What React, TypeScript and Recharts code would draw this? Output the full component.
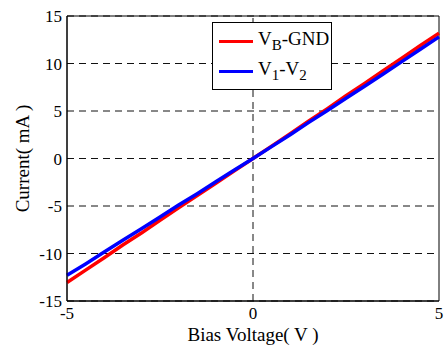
import React from 'react';
import { LineChart, Line, XAxis, YAxis, CartesianGrid, ReferenceLine, ReferenceArea, Label } from 'recharts';

// bias voltage (V)
const voltage = [-5, -4.5, -4, -3.5, -3, -2.5, -2, -1.5, -1, -0.5, 0, 0.5, 1, 1.5, 2, 2.5, 3, 3.5, 4, 4.5, 5];
// current (mA), V_B-GND
const currentVbGnd = [-13.05, -11.75, -10.45, -9.1, -7.85, -6.5, -5.2, -3.9, -2.6, -1.3, 0, 1.3, 2.6, 3.95, 5.25, 6.6, 7.9, 9.25, 10.55, 11.9, 13.2];
// current (mA), V1-V2
const currentV1V2 = [-12.3, -11.1, -9.85, -8.6, -7.4, -6.15, -4.9, -3.7, -2.45, -1.2, 0, 1.25, 2.5, 3.8, 5.05, 6.35, 7.6, 8.9, 10.2, 11.5, 12.8];

const xTicks = [-5, 0, 5];
const yTicks = [-15, -10, -5, 0, 5, 10, 15];

const data = voltage.map((v, i) => ({ v, a: currentVbGnd[i], b: currentV1V2[i] }));

const font = '"Liberation Serif", "Times New Roman", serif';
const textStyle = { fontFamily: font, fontSize: 17, fill: '#000' };
const titleStyle = { fontFamily: font, fontSize: 19, fill: '#000' };

const XTick = ({ x, y, payload }: any) => (
  <text x={x} y={y + 16} textAnchor="middle" style={textStyle}>
    {payload.value}
  </text>
);

const YTick = ({ x, y, payload }: any) => (
  <text x={x - 3} y={y + 6} textAnchor="end" style={textStyle}>
    {payload.value}
  </text>
);

const LegendBox = () => (
  <div
    style={{
      position: 'absolute',
      left: 212,
      top: 22,
      border: '1px solid #000',
      background: '#fff',
      width: 120,
      height: 68,
      fontFamily: font,
      fontSize: 19,
      color: '#000',
      boxSizing: 'border-box',
      padding: '3px 0 0 6px',
      lineHeight: 1,
    }}
  >
    <div style={{ display: 'flex', alignItems: 'center', height: 30 }}>
      <span style={{ display: 'inline-block', width: 34, height: 3, background: '#ff0000', marginRight: 5 }} />
      <span>
        V<sub style={{ fontSize: 15 }}>B</sub>-GND
      </span>
    </div>
    <div style={{ display: 'flex', alignItems: 'center', height: 30 }}>
      <span style={{ display: 'inline-block', width: 34, height: 3, background: '#0000ff', marginRight: 5 }} />
      <span>
        V<sub style={{ fontSize: 15 }}>1</sub>-V<sub style={{ fontSize: 15 }}>2</sub>
      </span>
    </div>
  </div>
);

export default function App() {
  return (
    <div style={{ position: 'absolute', left: 0, top: 0, width: 447, height: 345, background: '#fff', fontFamily: font }}>
      <LineChart width={447} height={345} data={data} margin={{ top: 16, right: 8, bottom: 0, left: 0 }}>
        <CartesianGrid vertical={false} stroke="#111" strokeDasharray="7 5" />
        <ReferenceLine x={0} stroke="#111" strokeDasharray="7 5" />
        <XAxis
          dataKey="v"
          type="number"
          domain={[-5, 5]}
          ticks={xTicks}
          height={44}
          tickSize={0}
          tick={<XTick />}
          axisLine={{ stroke: '#000' }}
        >
          <Label
            content={({ viewBox }: any) => (
              <text x={viewBox.x + viewBox.width / 2} y={viewBox.y + 40} textAnchor="middle" style={titleStyle}>
                Bias Voltage( V )
              </text>
            )}
          />
        </XAxis>
        <YAxis
          type="number"
          domain={[-15, 15]}
          ticks={yTicks}
          width={67}
          tickSize={0}
          tick={<YTick />}
          axisLine={{ stroke: '#000' }}
        >
          <Label
            content={({ viewBox }: any) => {
              const cx = 29;
              const cy = viewBox.y + viewBox.height / 2;
              return (
                <text x={cx} y={cy} textAnchor="middle" transform={`rotate(-90 ${cx} ${cy})`} style={titleStyle}>
                  Current( mA )
                </text>
              );
            }}
          />
        </YAxis>
        <ReferenceArea x1={-5} x2={5} y1={-15} y2={15} fill="none" stroke="#000" strokeWidth={1} ifOverflow="visible" />
        <Line dataKey="a" stroke="#ff0000" strokeWidth={3.5} dot={false} isAnimationActive={false} />
        <Line dataKey="b" stroke="#0000ff" strokeWidth={3.5} dot={false} isAnimationActive={false} />
      </LineChart>
      <LegendBox />
    </div>
  );
}
